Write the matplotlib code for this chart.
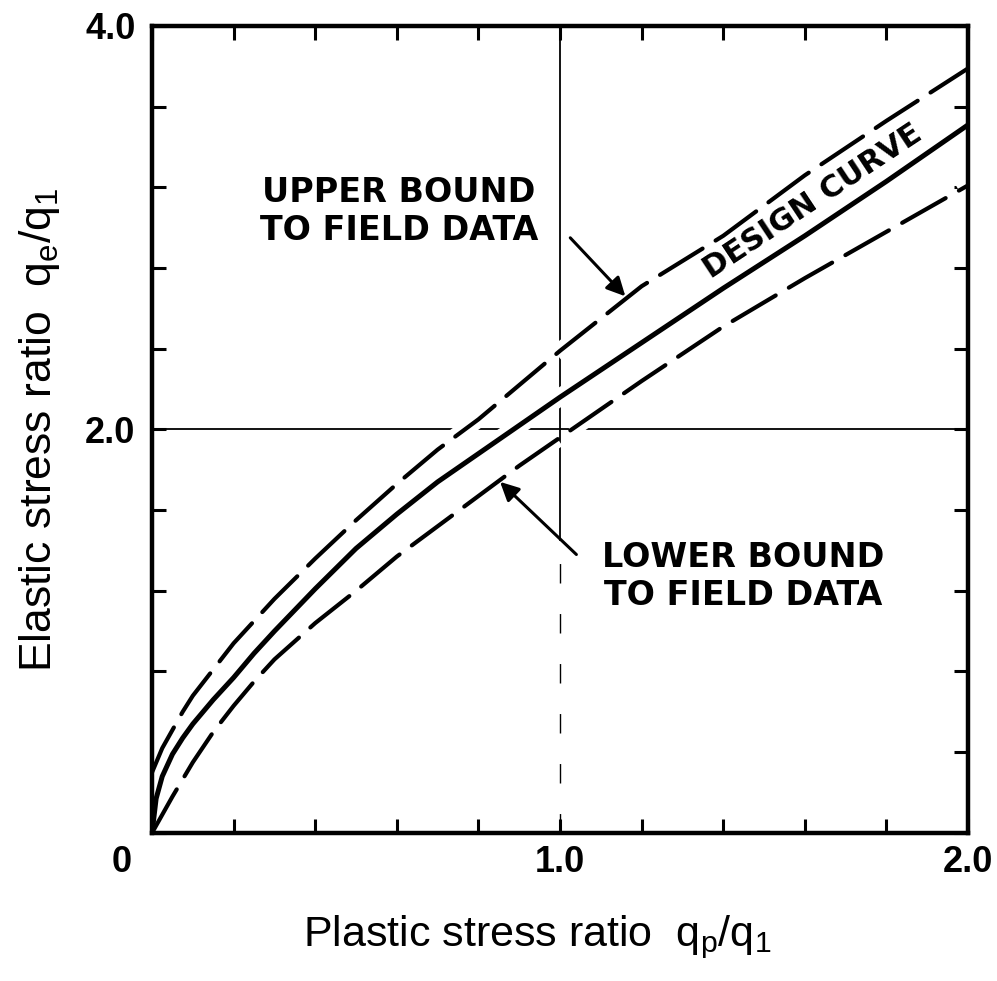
import matplotlib

matplotlib.use("Agg")
import matplotlib.pyplot as plt
from matplotlib.ticker import MultipleLocator, FixedLocator, FixedFormatter

# plastic stress ratio qp/q1 and elastic stress ratio qe/q1
design_x = [0, 0.01, 0.025, 0.05, 0.075, 0.1, 0.15, 0.2, 0.25, 0.3, 0.4, 0.5,
            0.6, 0.7, 0.8, 0.9, 1.0, 1.2, 1.4, 1.6, 1.8, 2.0]
design_y = [0, 0.17, 0.28, 0.39, 0.47, 0.54, 0.66, 0.77, 0.89, 1.00, 1.21,
            1.41, 1.58, 1.74, 1.88, 2.02, 2.16, 2.43, 2.70, 2.96, 3.23, 3.51]

upper_x = [0, 0.025, 0.05, 0.075, 0.1, 0.15, 0.2, 0.25, 0.3, 0.4, 0.5, 0.6,
           0.7, 0.8, 0.9, 1.0, 1.2, 1.4, 1.6, 1.8, 2.0]
upper_y = [0.30, 0.42, 0.51, 0.60, 0.68, 0.81, 0.94, 1.05, 1.16, 1.36, 1.55,
           1.73, 1.90, 2.05, 2.22, 2.39, 2.71, 2.96, 3.26, 3.53, 3.79]

lower_x = [0, 0.05, 0.1, 0.15, 0.2, 0.25, 0.3, 0.4, 0.5, 0.6, 0.7, 0.8, 0.9,
           1.0, 1.2, 1.4, 1.6, 1.8, 2.0]
lower_y = [0, 0.18, 0.35, 0.50, 0.63, 0.75, 0.86, 1.04, 1.20, 1.37, 1.52,
           1.67, 1.82, 1.96, 2.24, 2.51, 2.75, 2.98, 3.21]

x_tick_labels = {0.0: "", 1.0: "1.0", 2.0: "2.0"}
y_tick_labels = {2.0: "2.0", 4.0: "4.0"}

plt.rcParams["font.family"] = ["Liberation Sans", "DejaVu Sans"]
plt.rcParams["mathtext.fontset"] = "custom"
plt.rcParams["mathtext.rm"] = "Liberation Sans"
plt.rcParams["lines.scale_dashes"] = False

fig = plt.figure(figsize=(9.97, 9.81), dpi=100)
ax = fig.add_axes([0.1525, 0.151, 0.8185, 0.8225])
ax.set_xlim(0, 2.0)
ax.set_ylim(0, 4.0)

# reference lines at qp/q1 = 1 and qe/q1 = 2
ax.axhline(2.0, color="black", lw=1.3, zorder=1)
ax.plot([1.0, 1.0], [1.45, 4.0], color="black", lw=1.3, zorder=1)
ax.plot([1.0, 1.0], [0, 1.45], color="black", lw=1.0, zorder=1,
        linestyle=(0, (14, 22)))

curves = [
    (upper_x, upper_y, 3.0, (0, (36, 11))),
    (design_x, design_y, 3.6, "solid"),
    (lower_x, lower_y, 3.0, (0, (36, 11))),
]
# white underlay breaks the reference lines where the curves cross them
for xs, ys, lw, ls in curves:
    ax.plot(xs, ys, color="white", lw=lw + 9, linestyle=ls,
            solid_capstyle="butt", zorder=2)
for xs, ys, lw, ls in curves:
    ax.plot(xs, ys, color="black", lw=lw, linestyle=ls,
            dash_capstyle="round", solid_capstyle="round", zorder=3)

note_font = dict(fontweight="bold", family="DejaVu Sans")
ax.text(0.605, 3.08, "UPPER BOUND\nTO FIELD DATA", ha="center", va="center",
        linespacing=1.2, fontsize=24, **note_font)
ax.text(1.45, 1.27, "LOWER BOUND\nTO FIELD DATA", ha="center", va="center",
        linespacing=1.2, fontsize=24, **note_font)
ax.text(1.62, 3.13, "DESIGN CURVE", ha="center", va="center", rotation=33.5,
        rotation_mode="anchor", fontsize=22, zorder=4, **note_font)

arrow = dict(arrowstyle="-|>", color="black", lw=2.2, mutation_scale=28,
             shrinkA=0, shrinkB=0)
ax.annotate("", xy=(1.16, 2.66), xytext=(1.025, 2.95), arrowprops=arrow,
            zorder=5)
ax.annotate("", xy=(0.853, 1.74), xytext=(1.04, 1.38), arrowprops=arrow,
            zorder=5)

for side in ax.spines.values():
    side.set_linewidth(3.2)

ax.xaxis.set_major_locator(FixedLocator(list(x_tick_labels)))
ax.xaxis.set_major_formatter(FixedFormatter(list(x_tick_labels.values())))
ax.xaxis.set_minor_locator(MultipleLocator(0.2))
ax.yaxis.set_major_locator(FixedLocator(list(y_tick_labels)))
ax.yaxis.set_major_formatter(FixedFormatter(list(y_tick_labels.values())))
ax.yaxis.set_minor_locator(MultipleLocator(0.4))
ax.tick_params(which="both", direction="in", top=True, right=True,
               length=10, width=2.2)
ax.tick_params(axis="x", which="major", pad=9)
ax.tick_params(axis="y", which="major", pad=12)
for label in ax.get_xticklabels() + ax.get_yticklabels():
    label.set_fontsize(26)
    label.set_fontweight("bold")

ax.annotate("0", xy=(0, 0), xytext=(-22, -9), textcoords="offset points",
            ha="center", va="top", fontsize=26, fontweight="bold")

ax.set_xlabel(r"Plastic stress ratio  $\mathrm{q_p/q_1}$", fontsize=31)
ax.set_ylabel(r"Elastic stress ratio  $\mathrm{q_e/q_1}$", fontsize=32)
ax.xaxis.set_label_coords(0.472, -0.100)
ax.yaxis.set_label_coords(-0.110, 0.5)

fig.savefig("out.png", dpi=100)
